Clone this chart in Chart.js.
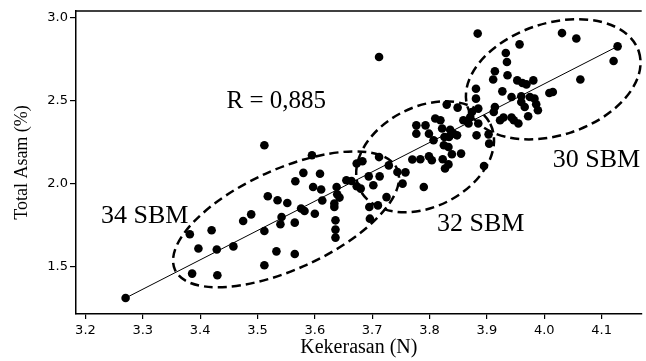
<!DOCTYPE html>
<html>
<head>
<meta charset="utf-8">
<script src="https://cdn.jsdelivr.net/npm/chart.js@4.4.1/dist/chart.umd.min.js"></script>
<style>
  html, body { margin: 0; padding: 0; background: #fff; }
  canvas { display: block; }
</style>
</head>
<body>
<canvas id="c" width="646" height="361"></canvas>
<script>
// Kekerasan (N) values
const kekerasan = [
  3.270,3.382,3.420,3.397,3.429,3.458,3.386,3.430,3.475,3.489,3.512,3.512,3.512,3.518,3.535,3.552,3.542,3.540,3.533,3.565,
  3.565,3.566,3.576,3.582,3.580,3.595,3.597,3.600,3.609,3.611,3.613,3.634,3.634,3.636,3.636,3.636,3.638,3.639,3.643,3.655,
  3.664,3.673,3.680,3.673,3.683,3.695,3.710,3.696,3.725,3.694,3.713,3.702,3.753,3.744,3.758,3.712,3.712,3.729,
  3.777,3.793,3.810,3.777,3.799,3.822,3.807,3.826,3.770,3.784,3.799,3.804,3.823,3.827,3.790,3.895,3.830,3.849,3.819,3.836,
  3.842,3.848,3.834,3.825,3.833,3.839,3.855,3.859,3.868,3.874,3.871,3.885,3.885,3.882,3.903,3.904,3.881,3.881,3.833,
  3.884,4.031,4.056,3.957,3.933,3.935,4.128,4.121,4.063,3.914,3.911,3.936,3.953,3.962,3.969,3.981,3.927,3.943,3.960,3.975,
  3.983,4.009,4.015,3.960,3.966,3.986,3.989,3.914,3.912,3.972,3.943,3.947,3.955,3.929,3.923
];
// Total Asam (%) values
const totalAsam = [
  1.309,1.693,1.717,1.607,1.601,1.620,1.456,1.446,1.773,1.813,2.229,1.713,1.506,1.922,1.898,1.881,1.797,1.753,1.590,1.574,
  1.763,2.012,1.848,1.833,2.063,2.169,1.978,1.817,2.058,1.963,1.896,1.878,1.858,1.777,1.721,1.673,1.978,1.934,1.914,2.018,
  2.014,1.982,1.968,2.119,2.133,1.857,1.867,1.787,1.917,2.042,2.042,1.988,1.998,2.068,2.066,2.761,2.158,2.108,
  2.349,2.349,2.390,2.299,2.299,2.330,2.259,2.279,2.143,2.145,2.163,2.139,2.145,2.089,1.978,2.104,2.474,2.456,2.380,2.323,
  2.299,2.289,2.279,2.229,2.219,2.175,2.179,2.380,2.360,2.430,2.399,2.450,2.360,2.289,2.295,2.239,2.510,2.570,2.114,
  2.902,2.905,2.872,2.837,2.785,2.731,2.825,2.737,2.625,2.675,2.625,2.651,2.620,2.604,2.596,2.620,2.554,2.520,2.524,2.520,
  2.510,2.544,2.550,2.490,2.460,2.476,2.440,2.460,2.430,2.404,2.396,2.380,2.360,2.396,2.380
];
// Regression line end points
const fitX = [3.270, 4.128];
const fitY = [1.309, 2.825];
// Tick labels
const xTicks = [3.2, 3.3, 3.4, 3.5, 3.6, 3.7, 3.8, 3.9, 4.0, 4.1];
const yTicks = [1.5, 2.0, 2.5, 3.0];
// Group ellipses (centre in data units)
const groupNames = ['34 SBM', '32 SBM', '30 SBM'];
const groupCx = [3.5498, 3.7923, 4.0157];
const groupCy = [1.7831, 2.1596, 2.6265];

const ellipseStyle = [
  {rx: 122, ry: 50, rot: 24.4},
  {rx: 73, ry: 50, rot: 26.8},
  {rx: 90, ry: 56, rot: 18}
];
const labelPos = [
  {x: 3.227, y: 1.759},
  {x: 3.813, y: 1.711},
  {x: 4.015, y: 2.096}
];
const rText = {text: 'R = 0,885', x: 3.446, y: 2.452};

const points = kekerasan.map((v, i) => ({x: v, y: totalAsam[i]}));
const fitLine = fitX.map((v, i) => ({x: v, y: fitY[i]}));

const overlay = {
  id: 'overlay',
  afterDatasetsDraw(chart) {
    const {ctx, chartArea, scales} = chart;
    const sx = scales.x, sy = scales.y;
    ctx.save();
    // top frame line
    ctx.strokeStyle = '#000';
    ctx.lineWidth = 1.5;
    ctx.beginPath();
    ctx.moveTo(chartArea.left, chartArea.top);
    ctx.lineTo(chartArea.right, chartArea.top);
    ctx.stroke();
    // ellipses
    ctx.lineWidth = 2.5;
    ctx.setLineDash([9, 5]);
    groupCx.forEach((cx, i) => {
      const e = ellipseStyle[i];
      ctx.beginPath();
      ctx.ellipse(sx.getPixelForValue(cx), sy.getPixelForValue(groupCy[i]), e.rx, e.ry, -e.rot * Math.PI / 180, 0, Math.PI * 2);
      ctx.stroke();
    });
    ctx.setLineDash([]);
    // labels
    ctx.fillStyle = '#000';
    ctx.textBaseline = 'alphabetic';
    ctx.textAlign = 'left';
    ctx.font = '26px "Liberation Serif", "Times New Roman", serif';
    groupNames.forEach((n, i) => {
      ctx.fillText(n, sx.getPixelForValue(labelPos[i].x), sy.getPixelForValue(labelPos[i].y));
    });
    ctx.font = '25px "Liberation Serif", "Times New Roman", serif';
    ctx.fillText(rText.text, sx.getPixelForValue(rText.x), sy.getPixelForValue(rText.y));
    ctx.restore();
  }
};

new Chart(document.getElementById('c'), {
  type: 'scatter',
  data: {
    datasets: [
      {
        type: 'scatter',
        data: points,
        backgroundColor: '#000',
        borderColor: '#000',
        borderWidth: 0,
        pointRadius: 4.3,
        pointHoverRadius: 4.3,
        order: 1
      },
      {
        type: 'line',
        data: fitLine,
        borderColor: '#000',
        borderWidth: 1,
        pointRadius: 0,
        fill: false,
        order: 2
      }
    ]
  },
  options: {
    responsive: false,
    animation: false,
    devicePixelRatio: 1,
    layout: {padding: {top: 11, right: 0, left: 0, bottom: 0}},
    plugins: {legend: {display: false}, tooltip: {enabled: false}},
    scales: {
      x: {
        type: 'linear',
        min: 3.1835,
        max: 4.17,
        afterBuildTicks: (s) => { s.ticks = xTicks.map(v => ({value: v})); },
        afterFit: (s) => { s.height = 47; },
        grid: {display: true, drawOnChartArea: false, drawTicks: true, tickLength: 5, color: '#000', lineWidth: 1.2},
        border: {display: true, color: '#000', width: 1.5},
        ticks: {
          color: '#000',
          padding: 4,
          maxRotation: 0,
          autoSkip: false,
          font: {family: '"DejaVu Sans", Verdana, sans-serif', size: 13},
          callback: (v) => Number(v).toFixed(1)
        },
        title: {
          display: true,
          text: 'Kekerasan (N)',
          color: '#000',
          font: {family: '"Liberation Serif", "Times New Roman", serif', size: 20},
          padding: {top: 0, bottom: 1}
        }
      },
      y: {
        type: 'linear',
        min: 1.2127,
        max: 3.038,
        afterBuildTicks: (s) => { s.ticks = yTicks.map(v => ({value: v})); },
        afterFit: (s) => { s.width = 76; },
        grid: {display: true, drawOnChartArea: false, drawTicks: true, tickLength: 6, color: '#000', lineWidth: 1.2},
        border: {display: true, color: '#000', width: 1.5},
        ticks: {
          color: '#000',
          padding: 2,
          autoSkip: false,
          font: {family: '"DejaVu Sans", Verdana, sans-serif', size: 13},
          callback: (v) => Number(v).toFixed(1)
        },
        title: {
          display: true,
          text: 'Total Asam (%)',
          color: '#000',
          font: {family: '"Liberation Serif", "Times New Roman", serif', size: 18},
          padding: {top: 11, bottom: 0}
        }
      }
    }
  },
  plugins: [overlay]
});
</script>
</body>
</html>
